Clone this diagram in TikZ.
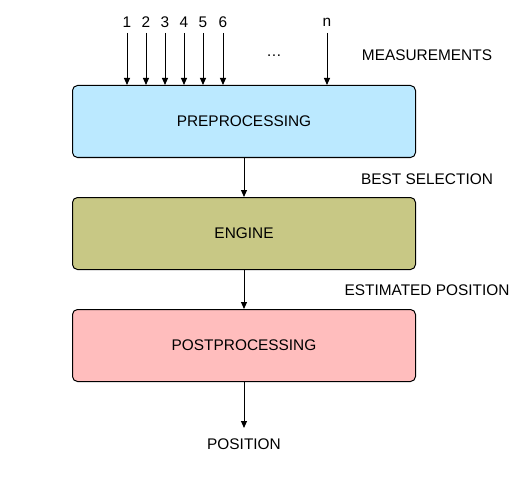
\documentclass[tikz,border=0pt]{standalone}
\usepackage{fontspec}
\setmainfont{Liberation Sans}
\usetikzlibrary{arrows.meta}
\definecolor{preblue}{RGB}{187,233,255}
\definecolor{engolive}{RGB}{200,200,133}
\definecolor{postpink}{RGB}{255,189,189}
\begin{document}
\begin{tikzpicture}[x=1pt,y=-1pt,
  every node/.style={font=\fontsize{15.4}{18}\selectfont, inner sep=0pt},
  block/.style={draw=black, line width=1pt, rounded corners=5pt, minimum width=343pt, minimum height=72pt, anchor=north west},
  conn/.style={draw=black, line width=1pt, -{Triangle[length=7pt,width=6pt]}}
]
\useasboundingbox (0,0) rectangle (530,500);
\fill[white] (0,0) rectangle (530,500);
\node[block, fill=preblue] (pre) at (72,85) {};
\node at (244,121) {PREPROCESSING};
\node[block, fill=engolive] (eng) at (72,197) {};
\node at (244,233) {ENGINE};
\node[block, fill=postpink] (post) at (72,309) {};
\node at (244,345) {POSTPROCESSING};

\foreach \i/\x in {1/127,2/146,3/165,4/184,5/203,6/223,n/327}{
  \node (m\i) at (\x,22) {\i};
  \coordinate (s\i) at (\x,33);
  \coordinate (e\i) at (\x,85);
  \draw[conn] (s\i) -- (e\i);
}
\node (dots) at (274,56) {\dots};
\node (meas) at (427,55) {MEASUREMENTS};
\node (best) at (427,179) {BEST SELECTION};
\node (est) at (427,290) {ESTIMATED POSITION};
\node (pos) at (244,444) {POSITION};
\coordinate (posend) at (244,428);

\draw[conn] (pre.south) -- (eng.north);
\draw[conn] (eng.south) -- (post.north);
\draw[conn] (post.south) -- (posend);
\end{tikzpicture}
\end{document}
